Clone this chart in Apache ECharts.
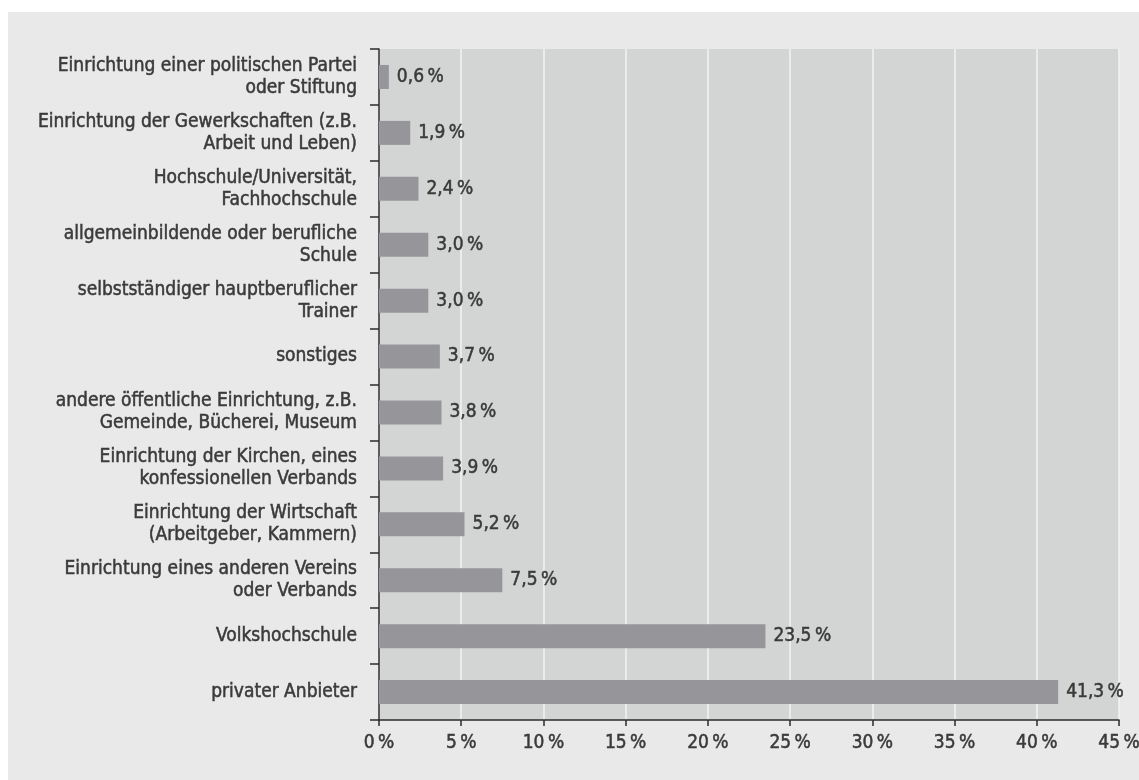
<!DOCTYPE html>
<html><head><meta charset="utf-8">
<script src="https://cdn.jsdelivr.net/npm/echarts@6/dist/echarts.min.js"></script>
<style>html,body{margin:0;padding:0;background:#fff}#c{width:1139px;height:780px}</style>
</head><body><div id="c"></div>
<script>
const categories = [
  "Einrichtung einer politischen Partei\noder Stiftung",
  "Einrichtung der Gewerkschaften (z.B.\nArbeit und Leben)",
  "Hochschule/Universität,\nFachhochschule",
  "allgemeinbildende oder berufliche\nSchule",
  "selbstständiger hauptberuflicher\nTrainer",
  "sonstiges",
  "andere öffentliche Einrichtung, z.B.\nGemeinde, Bücherei, Museum",
  "Einrichtung der Kirchen, eines\nkonfessionellen Verbands",
  "Einrichtung der Wirtschaft\n(Arbeitgeber, Kammern)",
  "Einrichtung eines anderen Vereins\noder Verbands",
  "Volkshochschule",
  "privater Anbieter"
];
const values = [0.6, 1.9, 2.4, 3.0, 3.0, 3.7, 3.8, 3.9, 5.2, 7.5, 23.5, 41.3];
const xTicks = [0, 5, 10, 15, 20, 25, 30, 35, 40, 45];

const FONT = "'Liberation Sans Narrow', 'DejaVu Sans Condensed', sans-serif";
const TXT = {
  color: '#3a3a3a', fontFamily: FONT, fontSize: 19, fontWeight: 'normal',
  textBorderColor: '#3a3a3a', textBorderWidth: 0.5
};
const chart = echarts.init(document.getElementById('c'), null, {renderer: 'canvas'});
chart.setOption({
  backgroundColor: '#ffffff',
  animation: false,
  graphic: [{
    type: 'rect', z: -10, silent: true,
    shape: {x: 8, y: 12, width: 1131, height: 768},
    style: {fill: '#e9e9e9'}
  }],
  grid: {
    left: 379, right: 20, top: 49, bottom: 60,
    outerBoundsMode: 'none', containLabel: false,
    show: true, backgroundColor: '#d3d5d5', borderWidth: 0
  },
  xAxis: {
    type: 'value', min: 0, max: 45, interval: 5,
    axisLine: {show: true, lineStyle: {color: '#2b2b2b', width: 1.5}},
    axisTick: {show: true, length: 6, inside: false, lineStyle: {color: '#2b2b2b', width: 1.5}},
    splitLine: {show: true, lineStyle: {color: '#f2f2f2', width: 1.5}},
    axisLabel: Object.assign({}, TXT, {
      margin: 14,
      formatter: v => xTicks.includes(v) ? v + '\u2009%' : ''
    })
  },
  yAxis: {
    type: 'category', data: categories, inverse: true,
    axisLine: {show: true, lineStyle: {color: '#2b2b2b', width: 1.5}},
    axisTick: {show: true, length: 9, alignWithLabel: false, lineStyle: {color: '#2b2b2b', width: 1.5}},
    axisLabel: Object.assign({}, TXT, {lineHeight: 22, margin: 22, align: 'right'})
  },
  series: [{
    type: 'bar', data: values, barWidth: 24,
    itemStyle: {color: '#96969a'},
    label: Object.assign({}, TXT, {
      show: true, position: 'right', distance: 8,
      formatter: p => p.value.toFixed(1).replace('.', ',') + '\u2009%'
    })
  }]
});
</script></body></html>
